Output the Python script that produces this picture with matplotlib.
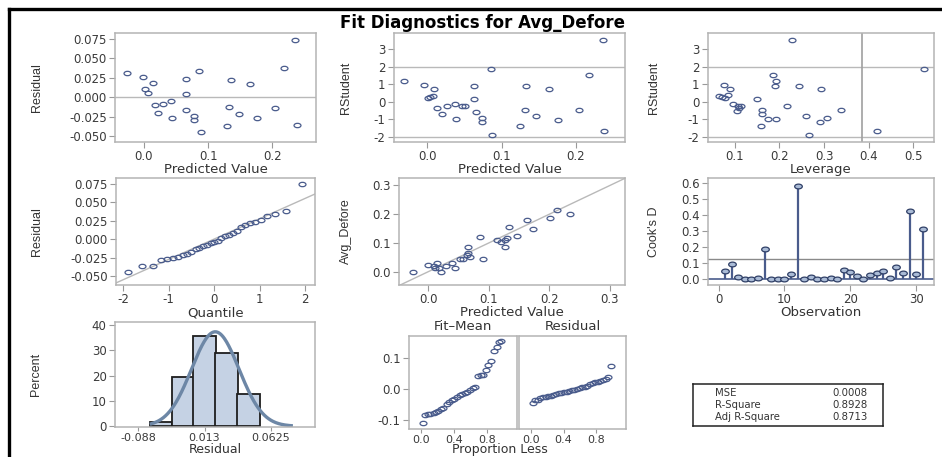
import numpy as np
import matplotlib
matplotlib.use("Agg")
import matplotlib.pyplot as plt
from matplotlib.path import Path
from matplotlib.transforms import Affine2D
from matplotlib.lines import Line2D

# ---- data ----
# residual vs predicted value
pred1 = [-0.026, -0.001, 0.0135, 0.0016, 0.0067, 0.017, 0.022, 0.030, 0.0415, 0.043,
         0.066, 0.066, 0.066, 0.078, 0.078, 0.086, 0.089, 0.129, 0.133, 0.135,
         0.148, 0.165, 0.176, 0.204, 0.218, 0.235, 0.238]
resid1 = [0.031, 0.026, 0.0187, 0.011, 0.0054, -0.0097, -0.020, -0.0083, -0.0045, -0.027,
          0.0235, 0.0037, -0.017, -0.024, -0.029, 0.034, -0.045, -0.037, -0.012, 0.0222,
          -0.0213, 0.0166, -0.0264, -0.0135, 0.038, 0.074, -0.036]

# rstudent vs predicted value
pred2 = [-0.031, -0.005, 0.009, 0.0076, 0.001, 0.003, 0.013, 0.019, 0.026, 0.037,
         0.039, 0.047, 0.050, 0.063, 0.063, 0.065, 0.074, 0.074, 0.085, 0.087,
         0.125, 0.131, 0.133, 0.146, 0.164, 0.176, 0.204, 0.218, 0.236, 0.238]
rstud2 = [1.19, 0.94, 0.70, 0.33, 0.22, 0.27, -0.35, -0.73, -0.26, -0.12,
          -1.0, -0.24, -0.27, 0.90, 0.16, -0.58, -0.96, -1.17, 1.84, -1.88,
          -1.38, -0.49, 0.90, -0.81, 0.70, -1.02, -0.47, 1.51, 3.51, -1.69]

# rstudent vs leverage
lev3 = [0.227, 0.524, 0.418, 0.075, 0.089, 0.065, 0.072, 0.078, 0.085, 0.096,
        0.107, 0.104, 0.113, 0.110, 0.150, 0.160, 0.160, 0.158, 0.174, 0.193,
        0.186, 0.192, 0.190, 0.216, 0.243, 0.259, 0.266, 0.292, 0.291, 0.306, 0.338]
rstud3 = [3.51, 1.84, -1.69, 0.94, 0.70, 0.32, 0.28, 0.22, 0.37, -0.12,
          -0.26, -0.55, -0.27, -0.37, 0.16, -0.49, -0.73, -1.38, -1.0, -1.0,
          1.51, 1.19, 0.90, -0.24, 0.90, -0.81, -1.88, 0.70, -1.17, -0.93, -0.49]

# normal quantile plot of residuals
quant4 = [-1.90, -1.58, -1.35, -1.17, -1.03, -0.91, -0.80, -0.69, -0.59, -0.50,
          -0.41, -0.33, -0.24, -0.16, -0.08, 0.0, 0.08, 0.16, 0.24, 0.33,
          0.41, 0.50, 0.59, 0.69, 0.80, 0.91, 1.03, 1.17, 1.35, 1.58, 1.93]
resid_sorted = [-0.045, -0.037, -0.036, -0.029, -0.027, -0.026, -0.024, -0.021, -0.020, -0.017,
                -0.0135, -0.012, -0.0097, -0.0083, -0.006, -0.0045, -0.003, 0.001, 0.0037, 0.0054,
                0.008, 0.011, 0.0166, 0.0187, 0.0222, 0.0235, 0.026, 0.031, 0.034, 0.038, 0.074]

# observed vs predicted
pred5 = [-0.025, 0.0, 0.009, 0.015, 0.011, 0.018, 0.022, 0.029, 0.039, 0.044,
         0.052, 0.057, 0.066, 0.069, 0.066, 0.090, 0.085, 0.113, 0.121, 0.127,
         0.130, 0.134, 0.147, 0.163, 0.173, 0.202, 0.212, 0.234, 0.064, 0.127]
obs5 = [0.0, 0.022, 0.020, 0.031, 0.012, 0.012, -0.002, 0.019, 0.031, 0.012,
        0.044, 0.046, 0.066, 0.052, 0.085, 0.044, 0.120, 0.110, 0.104, 0.087,
        0.119, 0.155, 0.125, 0.180, 0.148, 0.188, 0.215, 0.201, 0.060, 0.110]

# cook's D by observation
obs_no = list(range(1, 32))
cooks_d = [0.054, 0.092, 0.0125, 0.002, 0.002, 0.008, 0.19, 0.001, 0.001, 0.001,
           0.033, 0.579, 0.002, 0.015, 0.002, 0.001, 0.005, 0.002, 0.058, 0.044,
           0.019, 0.002, 0.025, 0.037, 0.054, 0.008, 0.079, 0.037, 0.423, 0.031, 0.31]
cooks_ref = 0.129

# residual histogram
bin_mid = [-0.054, -0.0205, 0.013, 0.0465, 0.080]
bin_pct = [1.8, 19.4, 35.5, 29.0, 12.9]
bin_w = 0.0337
hist_ticks = [-0.088, 0.013, 0.114]
hist_ticklabels = ["-0.088", "0.013", "0.0625"]
norm_mu = 0.0293
norm_sigma = 0.0361

# residual-fit spread
prop_less = [0.02, 0.05, 0.08, 0.11, 0.15, 0.18, 0.21, 0.24, 0.27, 0.31,
             0.34, 0.37, 0.40, 0.44, 0.47, 0.50, 0.53, 0.56, 0.60, 0.63,
             0.66, 0.69, 0.73, 0.76, 0.79, 0.82, 0.85, 0.89, 0.92, 0.95, 0.98]
fit_mean = [-0.110, -0.083, -0.082, -0.080, -0.077, -0.074, -0.070, -0.066, -0.060, -0.050,
            -0.042, -0.037, -0.032, -0.025, -0.020, -0.015, -0.012, -0.010, -0.004, 0.002,
            0.008, 0.043, 0.046, 0.047, 0.063, 0.079, 0.093, 0.124, 0.136, 0.155, 0.156]

stat_names = ["MSE", "R-Square", "Adj R-Square"]
stat_values = ["0.0008", "0.8928", "0.8713"]

# ---- style ----
plt.rcParams['axes.unicode_minus'] = False
plt.rcParams['font.family'] = ['DejaVu Sans']
W, H = 942, 457
mk_col = '#4a5c8c'
frame_col = '#b4b4b4'
ref_col = '#b9b9b9'
txt_col = '#333333'
oval = Path.unit_circle().transformed(Affine2D().scale(1.6, 1.0))
ylab_font = dict(family=['Liberation Sans Narrow', 'Liberation Sans', 'DejaVu Sans'],
                 fontsize=9, color=txt_col)

fig = plt.figure(figsize=(W / 100, H / 100), dpi=100)


def px_axes(l, t, r, b):
    return fig.add_axes([l / W, 1 - b / H, (r - l) / W, (b - t) / H])


def style(ax, xlabel=None, ylabel=None, ylab_x=None, l=None, r=None, bottom_row=False):
    for s in ax.spines.values():
        s.set_color(frame_col)
        s.set_linewidth(1.1)
    ax.tick_params(direction='out', length=4, width=0.8, color='#999999',
                   labelsize=8.5, labelcolor='#3a3a3a', pad=2)
    if bottom_row:
        ax.tick_params(axis='x', length=3, pad=1, labelsize=8)
    if xlabel:
        ax.set_xlabel(xlabel, fontsize=9 if bottom_row else 9.5, color=txt_col, labelpad=0)
    if ylabel:
        ax.set_ylabel(ylabel, **ylab_font)
        # ylab_x is the right edge of the rotated label in pixels
        ax.yaxis.set_label_coords((ylab_x - l) / (r - l), 0.5)


def scatter(ax, x, y):
    ax.plot(x, y, linestyle='none', marker=oval, ms=5, mfc='none',
            mec=mk_col, mew=0.9)


# panel 1
l, t, r, b = 115, 33, 316, 142
ax = px_axes(l, t, r, b)
ax.axhline(0, color=ref_col, lw=1)
scatter(ax, pred1, resid1)
ax.set_xlim(-0.045, 0.268)
ax.set_ylim(-0.0577, 0.0827)
ax.set_xticks([0.0, 0.1, 0.2])
ax.set_yticks([-0.05, -0.025, 0, 0.025, 0.05, 0.075])
ax.xaxis.set_major_formatter('{x:.1f}')
ax.yaxis.set_major_formatter('{x:.3f}')
style(ax, 'Predicted Value', 'Residual', 43, l, r)

# panel 2
l, t, r, b = 394, 33, 625, 142
ax = px_axes(l, t, r, b)
ax.axhline(2, color=ref_col, lw=1)
ax.axhline(-2, color=ref_col, lw=1)
scatter(ax, pred2, rstud2)
ax.set_xlim(-0.045, 0.266)
ax.set_ylim(-2.30, 3.91)
ax.set_xticks([0.0, 0.1, 0.2])
ax.set_yticks([-2, -1, 0, 1, 2, 3])
ax.xaxis.set_major_formatter('{x:.1f}')
style(ax, 'Predicted Value', 'RStudent', 352, l, r)

# panel 3
l, t, r, b = 708, 33, 934, 142
ax = px_axes(l, t, r, b)
ax.axhline(2, color=ref_col, lw=1)
ax.axhline(-2, color=ref_col, lw=1)
ax.axvline(0.384, color='#a0a0a0', lw=1.2)
scatter(ax, lev3, rstud3)
ax.set_xlim(0.040, 0.546)
ax.set_ylim(-2.30, 3.91)
ax.set_xticks([0.1, 0.2, 0.3, 0.4, 0.5])
ax.set_yticks([-2, -1, 0, 1, 2, 3])
ax.xaxis.set_major_formatter('{x:.1f}')
style(ax, 'Leverage', 'RStudent', 660, l, r)

# panel 4
l, t, r, b = 116, 178, 315, 285
ax = px_axes(l, t, r, b)
ax.axline((0, 0), slope=0.0275, color=ref_col, lw=1)
scatter(ax, quant4, resid_sorted)
ax.set_xlim(-2.16, 2.22)
ax.set_ylim(-0.0622, 0.0827)
ax.set_xticks([-2, -1, 0, 1, 2])
ax.set_yticks([-0.05, -0.025, 0, 0.025, 0.05, 0.075])
ax.yaxis.set_major_formatter('{x:.3f}')
style(ax, 'Quantile', 'Residual', 43, l, r)

# panel 5
l, t, r, b = 399, 178, 625, 285
ax = px_axes(l, t, r, b)
ax.axline((0, 0), slope=1, color=ref_col, lw=1)
scatter(ax, pred5, obs5)
ax.set_xlim(-0.048, 0.325)
ax.set_ylim(-0.046, 0.326)
ax.set_xticks([0.0, 0.1, 0.2, 0.3])
ax.set_yticks([0.0, 0.1, 0.2, 0.3])
ax.xaxis.set_major_formatter('{x:.1f}')
ax.yaxis.set_major_formatter('{x:.1f}')
style(ax, 'Predicted Value', 'Avg_Defore', 352, l, r)

# panel 6
l, t, r, b = 708, 178, 934, 285
ax = px_axes(l, t, r, b)
ax.axhline(cooks_ref, color='#8a8a8a', lw=1)
ax.axhline(0, color=mk_col, lw=1.2)
ax.vlines(obs_no, 0, cooks_d, color=mk_col, lw=1.6)
ax.plot(obs_no, cooks_d, linestyle='none', marker=oval, ms=5.5, mfc='#aabbd6',
        mec='#2f3f66', mew=0.9)
ax.set_xlim(-1.6, 32.7)
ax.set_ylim(-0.036, 0.631)
ax.set_xticks([0, 10, 20, 30])
ax.set_yticks([0, 0.1, 0.2, 0.3, 0.4, 0.5, 0.6])
ax.yaxis.set_major_formatter('{x:.1f}')
style(ax, 'Observation', "Cook's D", 660, l, r)

# panel 7
l, t, r, b = 115, 322, 315, 427
ax = px_axes(l, t, r, b)
ax.bar(bin_mid, bin_pct, width=bin_w, color='#c5d2e4', edgecolor='#1e1e1e', lw=1.3)
xs = np.linspace(-0.068, 0.145, 200)
ys = bin_w * 100 / (norm_sigma * np.sqrt(2 * np.pi)) * np.exp(-0.5 * ((xs - norm_mu) / norm_sigma) ** 2)
ax.plot(xs, ys, color='#6d87a6', lw=2.4)
ax.set_xlim(-0.1234, 0.1812)
ax.set_ylim(-0.3, 41.1)
ax.set_xticks(hist_ticks)
ax.set_xticklabels(hist_ticklabels)
ax.set_yticks([0, 10, 20, 30, 40])
style(ax, 'Residual', 'Percent', 42, l, r, bottom_row=True)

# panel 8 (residual-fit spread)
l, t, r, b = 409, 336, 517, 429
ax = px_axes(l, t, r, b)
scatter(ax, prop_less, fit_mean)
ax.set_xlim(-0.15, 1.17)
ax.set_ylim(-0.130, 0.173)
ax.set_xticks([0.0, 0.4, 0.8])
ax.set_yticks([-0.1, 0.0, 0.1])
ax.xaxis.set_major_formatter('{x:.1f}')
ax.yaxis.set_major_formatter('{x:.1f}')
style(ax, bottom_row=True)
ax.set_title('Fit\u2013Mean', fontsize=9.5, color=txt_col, pad=4)

l, t, r, b = 519, 336, 626, 429
ax = px_axes(l, t, r, b)
scatter(ax, prop_less, resid_sorted)
ax.set_xlim(-0.15, 1.17)
ax.set_ylim(-0.130, 0.173)
ax.set_xticks([0.0, 0.4, 0.8])
ax.xaxis.set_major_formatter('{x:.1f}')
ax.set_yticks([])
style(ax, bottom_row=True)
ax.set_title('Residual', fontsize=9.5, color=txt_col, pad=4)
fig.text(500 / W, 1 - 450 / H, 'Proportion Less', ha='center', va='center',
         fontsize=9, color=txt_col)

# fit statistics box
l, t, r, b = 693, 384, 883, 426
ax = px_axes(l, t, r, b)
ax.set_xticks([])
ax.set_yticks([])
for s in ax.spines.values():
    s.set_color('#222222')
    s.set_linewidth(1.1)
row_y = [0.79, 0.5, 0.21]
for yy, name, val in zip(row_y, stat_names, stat_values):
    ax.text(0.116, yy, name, fontsize=7.3, color=txt_col, va='center', ha='left')
    ax.text(0.918, yy, val, fontsize=7.3, color=txt_col, va='center', ha='right')

# title and outer frame
fig.text(482 / W, 1 - 23 / H, 'Fit Diagnostics for Avg_Defore', ha='center', va='center',
         fontsize=12, fontweight='bold')
fig.add_artist(Line2D([9 / W, 1], [1 - 9 / H, 1 - 9 / H], color='black', lw=2.4))
fig.add_artist(Line2D([9 / W, 9 / W], [0, 1 - 9 / H], color='black', lw=2.4))

fig.savefig('out.png', dpi=100)
